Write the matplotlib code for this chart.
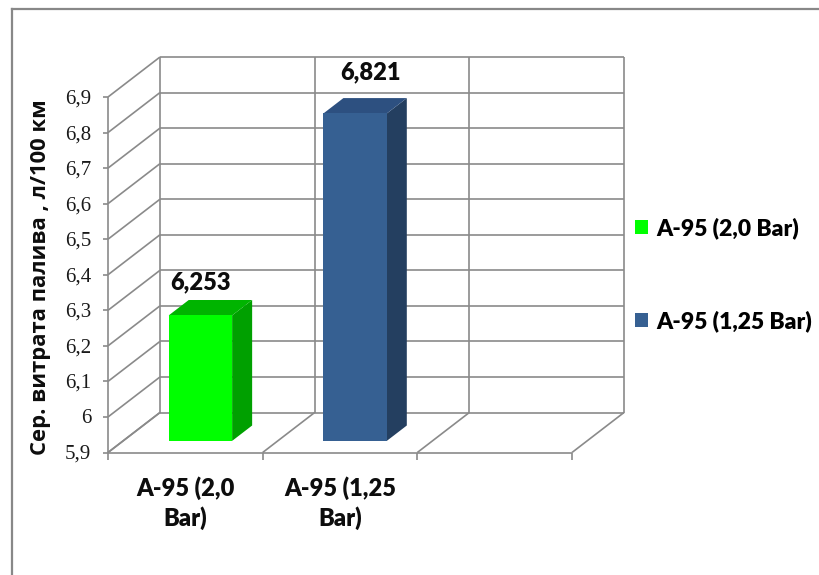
import numpy as np
import matplotlib
matplotlib.use('Agg')
import matplotlib.pyplot as plt
from matplotlib.patches import Polygon
from matplotlib.lines import Line2D

# data
categories = ['A-95 (2,0\nBar)', 'A-95 (1,25\nBar)']
series = ['A-95 (2,0 Bar)', 'A-95 (1,25 Bar)']
values = [6.253, 6.821]
value_labels = ['6,253', '6,821']
yticks = [5.9, 6.0, 6.1, 6.2, 6.3, 6.4, 6.5, 6.6, 6.7, 6.8, 6.9]
ytick_labels = ['5,9', '6', '6,1', '6,2', '6,3', '6,4', '6,5', '6,6', '6,7', '6,8', '6,9']
ylabel = 'Сер. витрата палива , л/100 км'

front_cols = ['#00FF00', '#366092']
side_cols = ['#00A000', '#243F60']
top_cols = ['#00B400', '#2D5080']

W, H = 819, 575
fig = plt.figure(figsize=(W / 100, H / 100), dpi=100)
ax = fig.add_axes([108 / W, (H - 452.5) / H, 464 / W, 355.5 / H])
n_slots = 3
ymin, ymax = 5.9, 6.9
ax.set_xlim(0, n_slots)
ax.set_ylim(ymin, ymax)
ax.axis('off')

# depth offsets (full depth) in data units
DX = 52 / 464 * n_slots
DY = 40 / 355.5 * (ymax - ymin)
px_x = n_slots / 464
px_y = (ymax - ymin) / 355.5


def proj(x, v, z):
    return x + DX * z, v + DY * z


grid_kw = dict(color='#8a8a8a', lw=1.2, clip_on=False, zorder=1,
               solid_capstyle='butt')


def seg(p, q, **kw):
    a = proj(*p)
    b = proj(*q)
    ax.plot([a[0], b[0]], [a[1], b[1]], **{**grid_kw, **kw})


# walls and floor
for v in yticks:
    seg((0, v, 0), (0, v, 1))
    seg((0, v, 1), (n_slots, v, 1))
for i in range(n_slots + 1):
    seg((i, ymin, 1), (i, ymax, 1))
    seg((i, ymin, 0), (i, ymin, 1))
seg((0, ymin, 0), (n_slots, ymin, 0))
seg((0, ymin, 0), (0, ymax, 0))

bold = dict(family='Lato', fontweight='heavy', color='#0d0d0d')

# ticks
for v, lab in zip(yticks, ytick_labels):
    ax.plot([-5 * px_x, 0], [v, v], **grid_kw)
    ax.text(-17 * px_x, v - 2 * px_y, lab, ha='right', va='center',
            family='Liberation Serif', fontsize=15, color='#1a1a1a')
for i in range(n_slots + 1):
    ax.plot([i, i], [ymin, ymin - 7 * px_y], **grid_kw)
for i, lab in enumerate(categories):
    ax.text(i + 0.5, ymin - 24 * px_y, lab, ha='center', va='top',
            fontsize=17, linespacing=1.3, **bold)

ax.text(-67 * px_x, 6.4 - 2 * px_y, ylabel, rotation=90, ha='center', va='center',
        family='Open Sans', fontweight='bold', fontsize=15.8, color='#0d0d0d')

# 3d bars
f0, f1 = 0.29, 0.675
bw = 0.41
lab_off = [(0, 33), (15, 41)]
for i, v in enumerate(values):
    x0 = i + 0.5 - bw / 2
    x1 = x0 + bw
    front = [proj(x0, ymin, f0), proj(x1, ymin, f0), proj(x1, v, f0), proj(x0, v, f0)]
    side = [proj(x1, ymin, f0), proj(x1, ymin, f1), proj(x1, v, f1), proj(x1, v, f0)]
    top = [proj(x0, v, f0), proj(x1, v, f0), proj(x1, v, f1), proj(x0, v, f1)]
    for pts, c in [(side, side_cols[i]), (top, top_cols[i]), (front, front_cols[i])]:
        ax.add_patch(Polygon(pts, closed=True, facecolor=c, edgecolor='none',
                             zorder=3, clip_on=False))
    cx, cy = proj(i + 0.5, v, f0)
    ax.annotate(value_labels[i], (cx, cy), xytext=lab_off[i],
                textcoords='offset pixels', ha='center', va='center',
                fontsize=17, annotation_clip=False, **bold)

# legend
handles = [plt.Rectangle((0, 0), 1, 1, facecolor=c) for c in front_cols]
fig.legend(handles, series, loc='center left', bbox_to_anchor=(635 / W, 1 - 275 / H),
           frameon=False, prop={'family': 'Lato', 'weight': 'heavy', 'size': 16.5},
           handlelength=0.55, handleheight=0.55, handletextpad=0.4,
           labelspacing=3.1, borderpad=0, borderaxespad=0)

# chart border
bc = '#888888'
fig.add_artist(Line2D([11.5 / W, 11.5 / W], [0, 1 - 9 / H], color=bc, lw=1.6,
                      transform=fig.transFigure))
fig.add_artist(Line2D([11.5 / W, 1], [1 - 9 / H, 1 - 9 / H], color=bc, lw=1.6,
                      transform=fig.transFigure))

fig.savefig('out.png', dpi=100)
